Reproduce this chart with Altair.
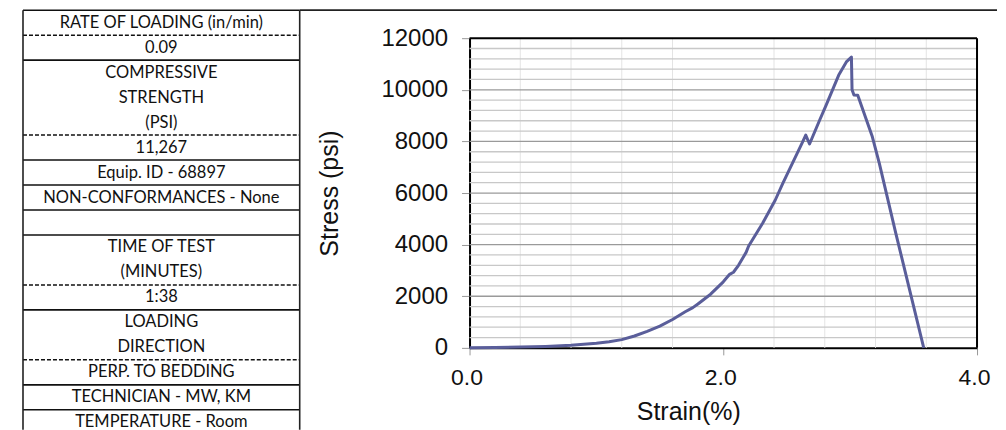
import altair as alt
import pandas as pd

# ---------------- data ----------------
strain = [0.00, 0.20, 0.40, 0.60, 0.80, 1.00, 1.10, 1.20, 1.30, 1.40, 1.50, 1.60,
          1.70, 1.76, 1.80, 1.90, 2.00, 2.05, 2.08, 2.12, 2.18, 2.20, 2.31, 2.41,
          2.47, 2.62, 2.65, 2.68, 2.76, 2.81, 2.91, 2.97, 3.01, 3.015, 3.03, 3.06,
          3.175, 3.23, 3.36, 3.58]
stress = [0, 15, 30, 55, 100, 175, 240, 320, 460, 640, 840, 1100,
          1400, 1560, 1700, 2080, 2560, 2850, 2930, 3200, 3700, 3950, 4830, 5730,
          6380, 7920, 8245, 7900, 8830, 9400, 10570, 11080, 11267, 10000, 9800, 9790,
          8180, 7150, 4440, 0]

y_ticks = [0, 2000, 4000, 6000, 8000, 10000, 12000]
x_ticks = [0, 2, 4]
major_grid = [2000, 4000, 6000, 8000, 10000]
minor_grid = [400, 800, 1200, 1600, 2400, 2800, 3200, 3600, 4400, 4800, 5200, 5600,
              6400, 6800, 7200, 7600, 8400, 8800, 9200, 9600, 10400, 10800, 11200, 11600]
x_grid = [0.4, 0.8, 1.2, 1.6, 2.4, 2.8, 3.2, 3.6]

table_text = ["RATE OF LOADING (in/min)", "0.09", "COMPRESSIVE", "STRENGTH", "(PSI)",
              "11,267", "Equip. ID - 68897", "NON-CONFORMANCES - None",
              "TIME OF TEST", "(MINUTES)", "1:38", "LOADING", "DIRECTION",
              "PERP. TO BEDDING", "TECHNICIAN - MW, KM", "TEMPERATURE - Room"]
table_row = [0.5, 1.5, 2.5, 3.5, 4.5, 5.5, 6.5, 7.5, 9.5, 10.5, 11.5, 12.5, 13.5,
             14.5, 15.5, 16.5]
solid_rows = [0, 2, 6, 7, 8, 9, 12, 15, 16]
dashed_rows = [1, 5, 11, 14]
border_cols = [0, 1]

# ---------------- table panel ----------------
TW, TH = 292, 422
tx = alt.Scale(domain=[-0.0542, 1.0], nice=False, zero=False)
ty = alt.Scale(domain=[-0.08, 16.8], nice=False, zero=False, reverse=True)

df_text = pd.DataFrame({"t": table_text, "y": table_row, "x": [0.5] * len(table_text)})
df_solid = pd.DataFrame({"y": solid_rows, "x0": [0] * len(solid_rows), "x1": [1] * len(solid_rows)})
df_dash = pd.DataFrame({"y": dashed_rows, "x0": [0] * len(dashed_rows), "x1": [1] * len(dashed_rows)})
df_border = pd.DataFrame({"x": border_cols, "y0": [0, 0], "y1": [16.8, 16.8]})

t_text = alt.Chart(df_text).mark_text(
    font="Lato", fontSize=16.5, color="#111111", baseline="middle", align="center"
).encode(
    x=alt.X("x:Q", scale=tx, axis=None),
    y=alt.Y("y:Q", scale=ty, axis=None),
    text="t:N",
)
t_solid = alt.Chart(df_solid).mark_rule(color="#111111", strokeWidth=1.6).encode(
    x=alt.X("x0:Q", scale=tx, axis=None), x2="x1:Q",
    y=alt.Y("y:Q", scale=ty, axis=None),
)
t_dash = alt.Chart(df_dash).mark_rule(color="#111111", strokeWidth=1.5, strokeDash=[4, 2]).encode(
    x=alt.X("x0:Q", scale=tx, axis=None), x2="x1:Q",
    y=alt.Y("y:Q", scale=ty, axis=None),
)
t_border = alt.Chart(df_border).mark_rule(color="#222222", strokeWidth=1.6).encode(
    x=alt.X("x:Q", scale=tx, axis=None),
    y=alt.Y("y0:Q", scale=ty, axis=None), y2="y1:Q",
)
table = alt.layer(t_solid, t_dash, t_border, t_text).properties(width=TW, height=TH)

# ---------------- plot panel ----------------
PW, PH = 508, 340
xs = alt.Scale(domain=[0, 4], nice=False, zero=False)
ys = alt.Scale(domain=[0, 12000], range=[340, 30], nice=False, zero=False)

ax_x = alt.Axis(
    values=x_ticks, format=".1f", title="Strain(%)", grid=False,
    domainColor="#000000", domainWidth=2, tickColor="#999999", tickSize=7, tickWidth=1,
    labelFont="Liberation Sans", labelFontSize=23, labelColor="#111111",
    labelPadding=12, labelFlush=False, labelOffset=-3,
    titleFont="Liberation Sans", titleFontSize=25, titleFontWeight="normal",
    titleColor="#111111", titleX=219, titleY=72, titleBaseline="alphabetic",
    titleAlign="center")
ax_y = alt.Axis(
    values=y_ticks, format="d", title="Stress (psi)", grid=False,
    domainColor="#000000", domainWidth=2, tickColor="#999999", tickSize=8, tickWidth=1,
    labelFont="Liberation Sans", labelFontSize=24, labelColor="#111111",
    labelPadding=14,
    titleFont="Liberation Sans", titleFontSize=25, titleFontWeight="normal",
    titleColor="#111111", titleX=-140, titleY=185, titleAngle=270,
    titleAlign="center", titleBaseline="middle")

df_line = pd.DataFrame({"strain": strain, "stress": stress, "i": list(range(len(strain)))})
df_vgrid = pd.DataFrame({"x": x_grid, "y0": [0] * len(x_grid), "y1": [12000] * len(x_grid)})
df_minor = pd.DataFrame({"y": minor_grid, "x0": [0] * len(minor_grid), "x1": [4] * len(minor_grid)})
df_major = pd.DataFrame({"y": major_grid, "x0": [0] * len(major_grid), "x1": [4] * len(major_grid)})
df_top = pd.DataFrame({"y": [12000], "x0": [0], "x1": [4]})
df_right = pd.DataFrame({"x": [4], "y0": [0], "y1": [12000]})

vgrid = alt.Chart(df_vgrid).mark_rule(color="#e4e4e4", strokeWidth=1).encode(
    x=alt.X("x:Q", scale=xs, axis=ax_x),
    y=alt.Y("y0:Q", scale=ys, axis=ax_y), y2="y1:Q",
)
minor = alt.Chart(df_minor).mark_rule(color="#c8c8c8", strokeWidth=1.3).encode(
    x=alt.X("x0:Q", scale=xs, axis=ax_x), x2="x1:Q",
    y=alt.Y("y:Q", scale=ys, axis=ax_y),
)
major = alt.Chart(df_major).mark_rule(color="#9a9a9a", strokeWidth=1.3).encode(
    x=alt.X("x0:Q", scale=xs, axis=ax_x), x2="x1:Q",
    y=alt.Y("y:Q", scale=ys, axis=ax_y),
)
line = alt.Chart(df_line).mark_line(color="#5a5e9a", strokeWidth=3, strokeJoin="round").encode(
    x=alt.X("strain:Q", scale=xs, axis=ax_x),
    y=alt.Y("stress:Q", scale=ys, axis=ax_y),
    order="i:Q",
)
frame_top = alt.Chart(df_top).mark_rule(color="#000000", strokeWidth=2).encode(
    x=alt.X("x0:Q", scale=xs, axis=ax_x), x2="x1:Q",
    y=alt.Y("y:Q", scale=ys, axis=ax_y),
)
frame_right = alt.Chart(df_right).mark_rule(color="#000000", strokeWidth=2).encode(
    x=alt.X("x:Q", scale=xs, axis=ax_x),
    y=alt.Y("y0:Q", scale=ys, axis=ax_y), y2="y1:Q",
)
page_top = alt.Chart(pd.DataFrame({"a": [0]})).mark_rule(color="#222222", strokeWidth=1.8).encode(
    x=alt.value(-170), x2=alt.value(528), y=alt.value(2)
)

plot = alt.layer(vgrid, minor, major, line, frame_top, frame_right, page_top).properties(
    width=PW, height=PH
)

chart = alt.hconcat(table, plot, spacing=170, bounds="flush").properties(
    padding=0
).configure_view(stroke=None)

chart.save("out.html", embed_options={"renderer": "svg", "actions": False})
